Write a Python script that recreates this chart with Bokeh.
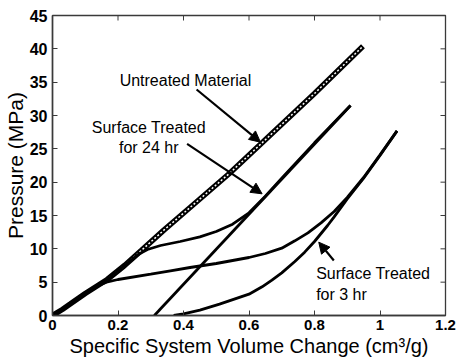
import math
from bokeh.plotting import figure
from bokeh.models import Range1d, FixedTicker, Arrow, NormalHead, Label
from bokeh.embed import file_html
from bokeh.resources import INLINE

# ---- data ----
untreated_x = [0, 0.03, 0.055, 0.1, 0.167, 0.22, 0.27, 0.34, 0.42, 0.54, 0.64, 0.80, 0.948]
untreated_y = [0, 0.9, 1.75, 3.3, 5.4, 7.5, 9.7, 12.8, 16.2, 21.3, 25.9, 33.3, 40.4]

hr24_load_x = [0, 0.03, 0.055, 0.1, 0.167, 0.22, 0.26, 0.29, 0.33, 0.39, 0.45, 0.50, 0.55, 0.60, 0.65, 0.70, 0.80, 0.91]
hr24_load_y = [0, 0.9, 1.75, 3.3, 5.4, 7.5, 9.1, 9.9, 10.5, 11.1, 11.8, 12.6, 13.7, 15.4, 17.9, 20.6, 25.9, 31.5]
hr24_unload_x = [0.91, 0.311]
hr24_unload_y = [31.5, 0]

hr3_load_x = [0, 0.03, 0.055, 0.1, 0.14, 0.165, 0.2, 0.3, 0.36, 0.42, 0.5, 0.6, 0.65, 0.70, 0.74, 0.78, 0.82, 0.86, 0.90, 0.95, 1.0, 1.052]
hr3_load_y = [0, 0.9, 1.75, 3.3, 4.5, 5.0, 5.4, 6.2, 6.7, 7.2, 7.8, 8.7, 9.3, 10.1, 11.2, 12.4, 13.9, 15.6, 17.7, 20.7, 24.1, 27.7]
hr3_unload_x = [1.052, 1.0, 0.95, 0.90, 0.86, 0.84, 0.80, 0.77, 0.74, 0.70, 0.67, 0.64, 0.60, 0.51, 0.45, 0.40, 0.37]
hr3_unload_y = [27.7, 24.0, 20.6, 17.5, 14.8, 13.5, 11.1, 9.5, 8.1, 6.4, 5.3, 4.3, 3.2, 1.7, 0.8, 0.25, 0]

x_ticks = [0, 0.2, 0.4, 0.6, 0.8, 1.0, 1.2]
x_tick_labels = ["0", "0.2", "0.4", "0.6", "0.8", "1", "1.2"]
y_ticks = [0, 5, 10, 15, 20, 25, 30, 35, 40, 45]
y_tick_labels = ["0", "5", "10", "15", "20", "25", "30", "35", "40", "45"]
x_min, x_max = 0, 1.2
y_min, y_max = 0, 45

# annotations: text, x, y
notes = [("Untreated Material", 0.205, 35.2),
         ("Surface Treated", 0.12, 28.25),
         ("for 24 hr", 0.203, 25.2),
         ("Surface Treated", 0.805, 6.25),
         ("for 3 hr", 0.805, 3.2)]
# arrows: x_start, y_start, x_end, y_end
arrows = [(0.44, 33.9, 0.635, 26.0),
          (0.411, 25.75, 0.640, 18.25),
          (0.859, 8.25, 0.813, 11.0)]

FONT = "Liberation Sans"
AX = "#3a3a3a"

p = figure(frame_width=393, frame_height=300, output_backend="svg", toolbar_location=None,
           x_range=Range1d(x_min, x_max), y_range=Range1d(y_min, y_max),
           min_border_left=52, min_border_right=13, min_border_top=15, min_border_bottom=45)
p.grid.visible = False
p.outline_line_color = AX
p.outline_line_width = 1.3
p.background_fill_color = "white"
p.border_fill_color = "white"

for ax in (p.xaxis[0], p.yaxis[0]):
    ax.axis_line_color = AX
    ax.axis_line_width = 1.5
    ax.major_tick_in = 5
    ax.major_tick_out = 0
    ax.minor_tick_line_color = None
    ax.major_tick_line_color = AX
    ax.major_label_text_font = FONT
    ax.major_label_text_font_style = "bold"
    ax.major_label_text_color = "black"
    ax.axis_label_text_font = FONT
    ax.axis_label_text_font_style = "normal"
    ax.axis_label_text_color = "black"

p.xaxis[0].major_label_text_font_size = "15px"
p.yaxis[0].major_label_text_font_size = "16px"
p.xaxis[0].axis_label_text_font_size = "20px"
p.yaxis[0].axis_label_text_font_size = "21px"
p.xaxis[0].ticker = FixedTicker(ticks=x_ticks)
p.xaxis[0].major_label_overrides = dict(zip(x_ticks, x_tick_labels))
p.yaxis[0].ticker = FixedTicker(ticks=y_ticks)
p.yaxis[0].major_label_overrides = dict(zip(y_ticks, y_tick_labels))
p.xaxis[0].axis_label = "Specific System Volume Change (cm³/g)"
p.yaxis[0].axis_label = "Pressure (MPa)"
p.xaxis[0].major_label_standoff = 4
p.xaxis[0].axis_label_standoff = 2
p.yaxis[0].major_label_standoff = 5
p.yaxis[0].axis_label_standoff = 0

# inward ticks on the top and right edges of the box (half of each dash is clipped by the frame)
p.scatter(x_ticks, [y_max] * len(x_ticks), marker="dash", angle=math.pi / 2, size=10,
          line_color=AX, line_width=1)
p.scatter([x_max] * len(y_ticks), y_ticks, marker="dash", size=10, line_color=AX, line_width=1)

# curves
p.line(untreated_x, untreated_y, line_color="black", line_width=5.5)
p.line(untreated_x, untreated_y, line_color="white", line_width=1.5, line_dash="2 2")
p.line(hr24_load_x, hr24_load_y, line_color="black", line_width=2.8)
p.line(hr24_unload_x, hr24_unload_y, line_color="black", line_width=2.8)
p.line(hr3_load_x, hr3_load_y, line_color="black", line_width=2.8)
p.line(hr3_unload_x, hr3_unload_y, line_color="black", line_width=2.8)

for xs, ys, xe, ye in arrows:
    p.add_layout(Arrow(end=NormalHead(size=11, fill_color="black", line_color="black"),
                       x_start=xs, y_start=ys, x_end=xe, y_end=ye,
                       line_color="black", line_width=2.2))

for t, x, y in notes:
    p.add_layout(Label(x=x, y=y, text=t, text_font=FONT, text_font_size="16px",
                       text_baseline="middle", text_align="left", text_color="black"))

open("out.html", "w").write(file_html(p, INLINE))
